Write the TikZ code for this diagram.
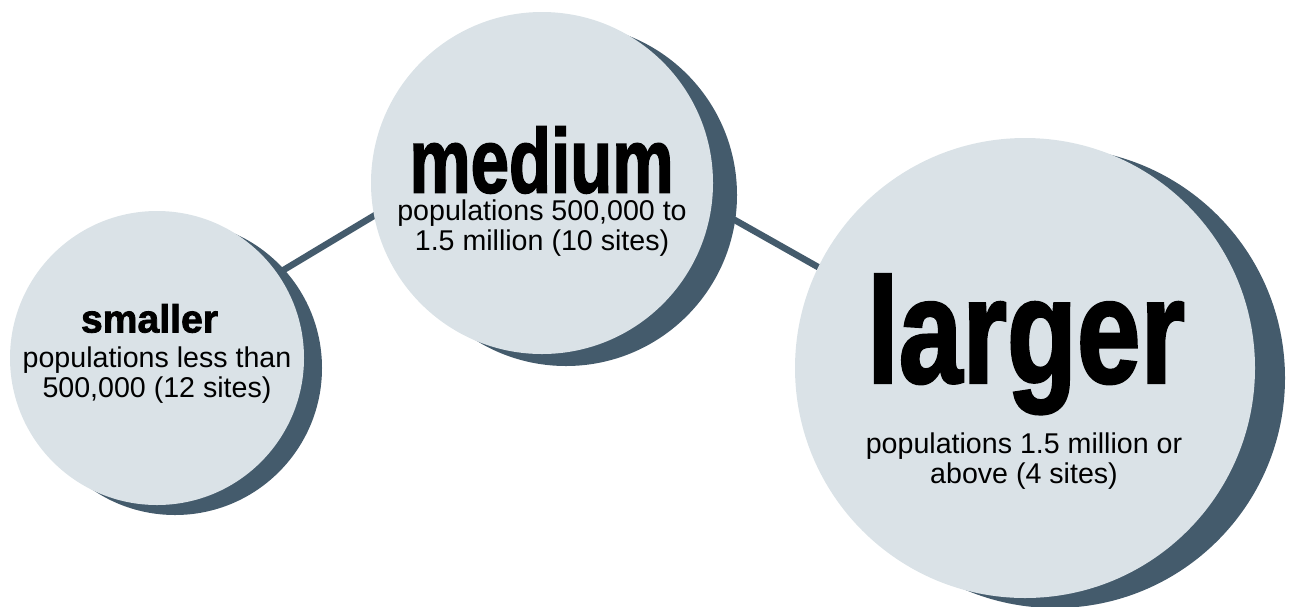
\documentclass[tikz,border=0pt]{standalone}
\usepackage{fontspec}
\setmainfont{Liberation Sans}
\newfontfamily\headfont[FakeBold=2]{Liberation Sans Bold}
\usepackage{graphicx}
\definecolor{bub}{HTML}{DAE2E7}
\definecolor{shade}{HTML}{445B6C}
\pgfdeclarelayer{bg}
\pgfsetlayers{bg,main}
\tikzset{
  bubble/.style={circle, fill=bub, draw=none, inner sep=0pt, outer sep=0pt, minimum size=#1},
  bshadow/.style={circle, fill=shade, draw=none, inner sep=0pt, outer sep=0pt, minimum size=#1},
  link/.style={draw=shade, line width=6.5pt, shorten >=-14pt, shorten <=-14pt},
  body/.style={align=center, inner sep=0pt, anchor=base, font=\fontsize{28.6pt}{30pt}\selectfont},
  head/.style={inner sep=0pt, anchor=base, font=\headfont}
}
\begin{document}
\begin{tikzpicture}[x=1pt,y=-1pt]
\useasboundingbox (0,0) rectangle (1289,606);
% shadows
\node[bshadow=294pt] (smallsh) at (175,368) {};
\node[bshadow=342pt] (mediumsh) at (566,195) {};
\node[bshadow=460pt] (largesh) at (1055,378) {};
% bubbles
\node[bubble=294pt] (small) at (157,358) {};
\node[bubble=342pt] (medium) at (542,183) {};
\node[bubble=460pt] (large) at (1025,368) {};
% connectors
\begin{pgfonlayer}{bg}
\draw[link] (small.35.5) -- (medium.191.9);
\draw[link] (medium.-8.2) -- (large.154.6);
\end{pgfonlayer}
% texts (body nodes are anchored at the baseline of their last line)
\node[head] (smallhead) at (149.5,332.5) {\resizebox{137pt}{28.5pt}{smaller}};
\node[body] (smalltext) at (157,397) {populations less than\\500,000 (12 sites)};
\node[head] (mediumhead) at (541.5,192.5) {\resizebox{264pt}{66pt}{medium}};
\node[body] (mediumtext) at (542,250) {populations 500,000 to\\1.5 million (10 sites)};
\node[head] (largehead) at (1026,382.5) {\resizebox{318pt}{108pt}{larger}};
\node[body] (largetext) at (1024,483) {populations 1.5 million or\\above (4 sites)};
\end{tikzpicture}
\end{document}
